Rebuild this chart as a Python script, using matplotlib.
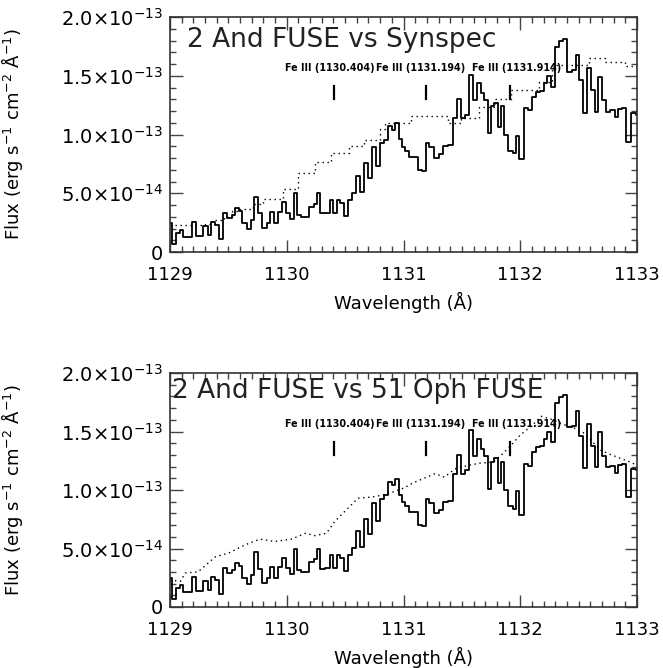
import matplotlib
matplotlib.use("Agg")
import matplotlib.pyplot as plt
import numpy as np
from matplotlib.ticker import MultipleLocator

# 2 And FUSE spectrum (histogram), left bin edges in Angstrom, flux in 1e-13 erg/s/cm2/A
fuse_wave = [1129.000, 1129.020, 1129.051, 1129.086, 1129.114, 1129.186, 1129.223, 1129.286,
             1129.323, 1129.351, 1129.385, 1129.420, 1129.457, 1129.491, 1129.528, 1129.557,
             1129.591, 1129.620, 1129.657, 1129.694, 1129.722, 1129.757, 1129.791, 1129.828,
             1129.857, 1129.891, 1129.928, 1129.956, 1129.997, 1130.025, 1130.059, 1130.088,
             1130.125, 1130.191, 1130.231, 1130.259, 1130.288, 1130.325, 1130.368, 1130.396,
             1130.431, 1130.459, 1130.490, 1130.525, 1130.559, 1130.590, 1130.625, 1130.662,
             1130.699, 1130.733, 1130.765, 1130.799, 1130.830, 1130.867, 1130.899, 1130.930,
             1130.959, 1130.987, 1131.010, 1131.045, 1131.122, 1131.156, 1131.193, 1131.222,
             1131.265, 1131.300, 1131.336, 1131.379, 1131.422, 1131.459, 1131.493, 1131.527,
             1131.564, 1131.593, 1131.630, 1131.664, 1131.693, 1131.727, 1131.750, 1131.778,
             1131.807, 1131.835, 1131.864, 1131.895, 1131.935, 1131.960, 1131.989, 1132.032,
             1132.069, 1132.103, 1132.137, 1132.166, 1132.203, 1132.232, 1132.266, 1132.297,
             1132.332, 1132.369, 1132.403, 1132.440, 1132.474, 1132.503, 1132.537, 1132.574,
             1132.603, 1132.640, 1132.669, 1132.703, 1132.737, 1132.771, 1132.809, 1132.840,
             1132.874, 1132.909, 1132.946, 1132.989, 1133.000]
fuse_flux = [0.244, 0.065, 0.159, 0.187, 0.130, 0.258, 0.136, 0.224,
             0.145, 0.258, 0.230, 0.108, 0.335, 0.287, 0.312, 0.372,
             0.352, 0.250, 0.199, 0.272, 0.471, 0.329, 0.201, 0.244,
             0.343, 0.250, 0.343, 0.423, 0.335, 0.278, 0.499, 0.315,
             0.301, 0.386, 0.409, 0.499, 0.329, 0.335, 0.443, 0.335,
             0.443, 0.420, 0.306, 0.443, 0.505, 0.647, 0.513, 0.755,
             0.627, 0.891, 0.732, 0.925, 0.953, 1.072, 1.040, 1.095,
             0.959, 0.896, 0.860, 0.810, 0.700, 0.690, 0.925, 0.890,
             0.800, 0.830, 0.900, 0.910, 1.140, 1.300, 1.140, 1.170,
             1.510, 1.290, 1.440, 1.350, 1.290, 1.010, 1.240, 1.270,
             1.060, 1.240, 1.000, 0.860, 0.840, 0.990, 0.790, 1.223,
             1.209, 1.322, 1.365, 1.373, 1.435, 1.498, 1.407, 1.747,
             1.799, 1.813, 1.535, 1.549, 1.677, 1.464, 1.186, 1.563,
             1.379, 1.194, 1.492, 1.294, 1.194, 1.209, 1.146, 1.214,
             1.223, 0.939, 1.180, 1.170, 1.170]

# Synspec model (top panel, dotted)
syn_wave = [1129.00, 1129.30, 1129.36, 1129.46, 1129.53, 1129.60, 1129.71, 1129.80,
            1129.97, 1130.10, 1130.24, 1130.38, 1130.53, 1130.66, 1130.80, 1130.84,
            1131.065, 1131.38, 1131.49, 1131.65, 1131.78, 1131.92, 1132.16, 1132.27,
            1132.59, 1132.73, 1132.90, 1133.00]
syn_flux = [0.23, 0.24, 0.27, 0.30, 0.35, 0.37, 0.41, 0.45,
            0.54, 0.67, 0.77, 0.84, 0.90, 0.95, 1.05, 1.095,
            1.157, 1.10, 1.14, 1.23, 1.30, 1.38, 1.45, 1.59,
            1.65, 1.62, 1.58, 1.58]

# 51 Oph FUSE (bottom panel, dotted)
oph_wave = [1129.00, 1129.09, 1129.13, 1129.24, 1129.39, 1129.50, 1129.64, 1129.77,
            1129.90, 1130.04, 1130.16, 1130.24, 1130.34, 1130.41, 1130.51, 1130.61,
            1130.73, 1130.84, 1130.93, 1131.01, 1131.08, 1131.27, 1131.35, 1131.44,
            1131.55, 1131.66, 1131.77, 1131.84, 1131.92, 1132.00, 1132.10, 1132.18,
            1132.28, 1132.37, 1132.46, 1132.54, 1132.61, 1132.69, 1132.78, 1132.86,
            1132.94, 1133.00]
oph_flux = [0.23, 0.22, 0.29, 0.30, 0.43, 0.46, 0.53, 0.58,
            0.56, 0.58, 0.63, 0.61, 0.63, 0.73, 0.83, 0.93,
            0.94, 0.96, 0.99, 1.02, 1.06, 1.14, 1.11, 1.18,
            1.21, 1.23, 1.24, 1.30, 1.38, 1.47, 1.55, 1.63,
            1.60, 1.56, 1.53, 1.49, 1.42, 1.34, 1.30, 1.27,
            1.24, 1.21]

# line identifications
line_waves = [1130.404, 1131.194, 1131.914]
line_labels = ['Fe III (1130.404)', 'Fe III (1131.194)', 'Fe III (1131.914)']
label_shift = [-0.034, -0.045, 0.057]   # text offset from the tick, in Angstrom

ytick_vals = [0, 5e-14, 1e-13, 1.5e-13, 2e-13]
ytick_labels = ['0', r'$5.0{\times}10^{-14}$', r'$1.0{\times}10^{-13}$',
                r'$1.5{\times}10^{-13}$', r'$2.0{\times}10^{-13}$']
xtick_vals = [1129, 1130, 1131, 1132, 1133]

titles = ['2 And FUSE vs Synspec', '2 And FUSE vs 51 Oph FUSE']

W, H = 663, 668
fig = plt.figure(figsize=(W / 100, H / 100), dpi=100)
fs = 13

ax1 = fig.add_axes([170 / W, 1 - 252 / H, 467 / W, 235 / H])
ax2 = fig.add_axes([170 / W, 1 - 607 / H, 467 / W, 234 / H])

scale = 1e-13
for ax, title, cmp_w, cmp_f, step, tx, ty in [
        (ax1, titles[0], syn_wave, syn_flux, True, 0.036, 0.872),
        (ax2, titles[1], oph_wave, oph_flux, False, 0.004, 0.895)]:
    ax.plot(fuse_wave, np.array(fuse_flux) * scale, color='black', lw=1.3,
            drawstyle='steps-post')
    ax.plot(cmp_w, np.array(cmp_f) * scale, color='black', lw=1.0,
            linestyle=(0, (1, 2.6)), drawstyle='steps-post' if step else 'default')
    ax.set_xlim(1129, 1133)
    ax.set_ylim(0, 2e-13)
    ax.set_xticks(xtick_vals)
    ax.set_xticklabels([str(v) for v in xtick_vals], fontsize=fs)
    ax.set_yticks(ytick_vals)
    ax.set_yticklabels(ytick_labels, fontsize=14)
    ax.xaxis.set_minor_locator(MultipleLocator(0.1))
    ax.yaxis.set_minor_locator(MultipleLocator(1e-14))
    ax.tick_params(which='both', direction='in', top=True, right=True, color='#444444')
    ax.tick_params(which='major', length=9, width=1, pad=10)
    ax.tick_params(which='minor', length=4, width=1)
    ax.tick_params(axis='y', which='major', pad=5)
    for sp in ax.spines.values():
        sp.set_linewidth(1.2)
        sp.set_color('#333333')
    ax.set_xlabel('Wavelength (Å)', fontsize=fs, labelpad=6)
    ax.set_ylabel(r'Flux (erg s$^{-1}$ cm$^{-2}$ Å$^{-1}$)', fontsize=13)
    ax.yaxis.set_label_coords(-0.31, 0.5)
    ax.text(tx, ty, title, transform=ax.transAxes, fontsize=19, ha='left',
            va='baseline', color='#222222')
    for lw_, lab, sh in zip(line_waves, line_labels, label_shift):
        ax.text(lw_ + sh, 1.565e-13, lab, fontsize=6.9, fontweight='bold', ha='center',
                va='center')
        ax.plot([lw_, lw_], [1.30e-13, 1.41e-13], color='black', lw=1.6)

fig.savefig('out.png', dpi=100)
